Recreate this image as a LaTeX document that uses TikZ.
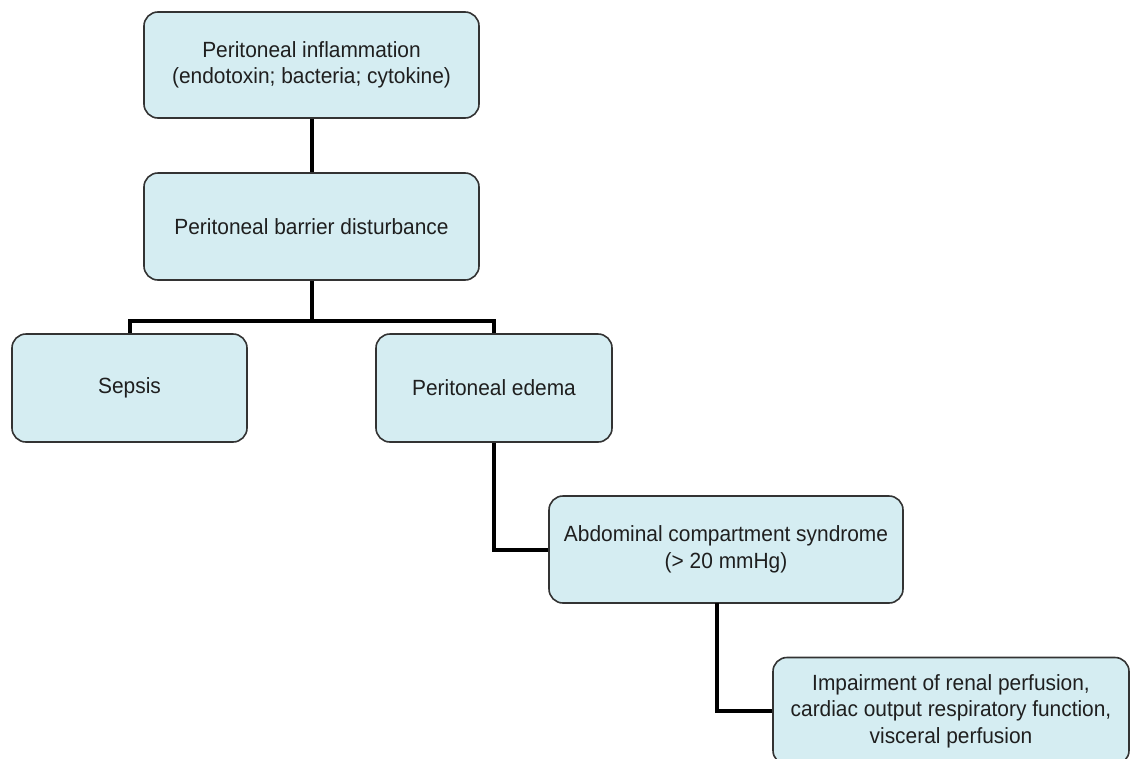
\documentclass[tikz,border=0pt]{standalone}
\usepackage{fontspec}
\setmainfont{Liberation Sans}[FakeStretch=0.95]
\begin{document}
\begin{tikzpicture}[x=1pt,y=-1pt,
  flowbox/.style={draw=black!80, line width=1.6pt, fill=boxfill,
    rounded corners=14pt, align=center, inner sep=0pt,
    font=\fontsize{22}{26.5}\selectfont, text=black!88},
  link/.style={draw=black, line width=4pt, line join=miter}]
\definecolor{boxfill}{RGB}{213,237,242}
\clip (0,0) rectangle (1130,758);
\fill[white] (0,0) rectangle (1130,758);

% boxes
\node[flowbox, minimum width=335pt, minimum height=106pt] (infl) at (311.5,65)
  {Peritoneal inflammation\\(endotoxin; bacteria; cytokine)};
\node[flowbox, minimum width=335pt, minimum height=107pt] (barrier) at (311.5,226.5)
  {Peritoneal barrier disturbance};
\node[flowbox, minimum width=235pt, minimum height=108pt] (sepsis) at (129.5,388)
  {Sepsis};
\node[flowbox, minimum width=236pt, minimum height=108pt] (edema) at (494,388)
  {Peritoneal edema};
\node[flowbox, minimum width=354pt, minimum height=107pt] (acs) at (726,549.5)
  {Abdominal compartment syndrome\\(> 20 mmHg)};
\node[flowbox, minimum width=356pt, minimum height=107pt] (impair) at (951,711)
  {Impairment of renal perfusion,\\cardiac output respiratory function,\\visceral perfusion};

% connectors
\coordinate (split) at (311.5,321);
\coordinate (acsdrop) at (717,603);
\draw[link] (infl.south) -- (barrier.north);
\draw[link] (barrier.south) -- (split);
\draw[link] (sepsis.north) |- (split) -| (edema.north);
\draw[link] (edema.south) |- (acs.west);
\draw[link] (acsdrop) |- (impair.west);
\end{tikzpicture}
\end{document}
